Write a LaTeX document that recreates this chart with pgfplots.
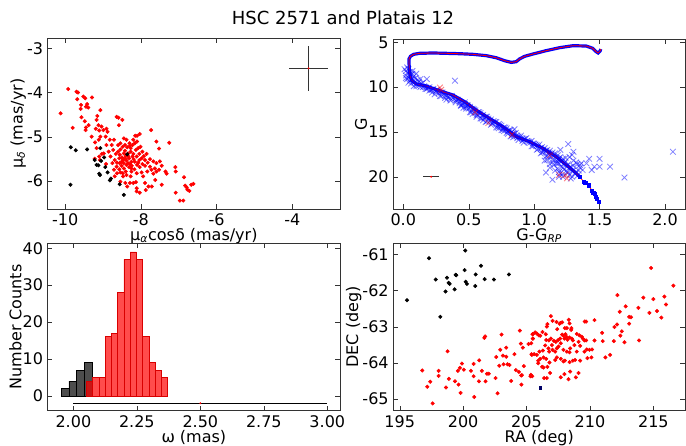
\documentclass[border=0pt]{standalone}
\usepackage{fontspec}
\setmainfont{DejaVu Sans}
\usepackage{pgfplots}
\pgfplotsset{compat=1.18}

\definecolor{bargray}{RGB}{77,77,77}

\pgfplotsset{
  panel/.style={
    scale only axis,
    anchor=south west,
    /pgf/number format/assume math mode=true,
    tick align=inside,
    major tick length=3.5pt,
    minor tick num=0,
    axis line style={black!80},
    tick style={black!80},
    tick label style={font=\fontsize{12}{14}\selectfont},
    label style={font=\fontsize{12}{14}\selectfont},
    xlabel shift=-5pt,
    ylabel shift=-6pt,
  },
  pts/.style={only marks, mark=*, mark size=1.3pt},
}

\begin{document}
\begin{tikzpicture}
\useasboundingbox (0pt,0pt) rectangle (514.5pt,334.5pt);
\node[font=\fontsize{13.5}{16}\selectfont] at (257.25pt,321pt) {HSC 2571 and Platais 12};

% ---- proper motion ----
\begin{axis}[panel, at={(35.8pt,177.75pt)}, width=219.2pt, height=128pt,
  xmin=-10.46, xmax=-2.74, ymin=-6.64, ymax=-2.77,
  xtick={-10,-8,-6,-4}, ytick={-6,-5,-4,-3},
  xlabel={μ\textsubscript{\textit{α}}cosδ (mas/yr)},
  ylabel={μ\textsubscript{\textit{δ}} (mas/yr)}]
\addplot[pts, red] coordinates {
(-9.92,-3.92) (-10.12,-4.47) (-9.70,-3.98) (-9.66,-4.00) (-9.68,-4.15) (-9.52,-4.09)
(-9.47,-4.13) (-9.58,-4.28) (-9.59,-4.37) (-9.42,-4.26) (-9.45,-4.32) (-9.29,-4.11)
(-9.39,-4.34) (-9.80,-4.80) (-9.57,-4.56) (-9.48,-4.65) (-9.45,-4.79) (-9.46,-4.85)
(-9.38,-4.74) (-9.30,-5.00) (-9.15,-4.53) (-9.17,-4.62) (-9.12,-4.74) (-9.19,-4.82)
(-9.10,-4.86) (-9.07,-4.40) (-9.04,-4.77) (-8.99,-4.85) (-9.07,-5.00) (-9.11,-5.07)
(-8.64,-4.55) (-8.59,-4.57) (-8.49,-4.62) (-8.58,-4.74) (-8.91,-4.82) (-8.88,-4.89)
(-8.93,-5.00) (-9.21,-5.13) (-9.17,-5.26) (-9.22,-5.50) (-9.10,-5.45) (-9.03,-5.39)
(-8.91,-5.19) (-8.98,-5.38) (-9.08,-5.53) (-8.92,-5.62) (-8.77,-5.19) (-8.71,-5.07)
(-8.82,-5.07) (-8.45,-5.04) (-8.38,-5.07) (-8.30,-5.15) (-8.20,-5.07) (-8.15,-4.98)
(-8.10,-4.98) (-8.03,-4.94) (-7.73,-4.85) (-7.59,-5.11) (-7.52,-5.27) (-7.25,-5.14)
(-7.32,-5.84) (-7.35,-5.79) (-7.09,-5.69) (-7.08,-5.79) (-7.45,-6.09) (-7.67,-5.84)
(-7.62,-5.98) (-7.80,-6.13) (-7.87,-6.21) (-7.71,-6.13) (-8.03,-6.27) (-8.13,-6.03)
(-7.94,-5.90) (-7.89,-6.05) (-8.20,-6.05) (-8.11,-6.17) (-8.27,-5.90) (-8.38,-5.87)
(-8.47,-5.90) (-8.48,-5.83) (-8.63,-5.83) (-8.69,-5.90) (-8.54,-6.02) (-8.41,-6.05)
(-8.29,-6.05) (-8.36,-6.13) (-6.86,-5.92) (-6.83,-6.11) (-6.79,-6.15) (-6.77,-6.20)
(-6.72,-6.23) (-6.67,-6.09) (-6.61,-6.07) (-6.97,-6.45) (-6.88,-6.45) (-7.08,-6.27)
(-8.11,-6.24)
(-8.73,-5.30) (-8.66,-5.39) (-8.60,-5.34) (-8.54,-5.29) (-8.48,-5.23) (-8.42,-5.19)
(-8.36,-5.24) (-8.29,-5.21) (-8.22,-5.19) (-8.16,-5.15) (-8.10,-5.11) (-8.56,-5.41)
(-8.50,-5.47) (-8.45,-5.38) (-8.40,-5.44) (-8.34,-5.38) (-8.27,-5.34) (-8.20,-5.39)
(-8.13,-5.30) (-8.07,-5.26) (-8.01,-5.23) (-7.96,-5.34) (-8.69,-5.53) (-8.63,-5.59)
(-8.57,-5.49) (-8.51,-5.57) (-8.45,-5.60) (-8.38,-5.54) (-8.31,-5.49) (-8.25,-5.57)
(-8.19,-5.51) (-8.11,-5.45) (-8.04,-5.53) (-7.98,-5.49) (-7.92,-5.44) (-7.85,-5.39)
(-8.64,-5.68) (-8.57,-5.74) (-8.51,-5.66) (-8.45,-5.72) (-8.38,-5.64) (-8.31,-5.69)
(-8.24,-5.66) (-8.17,-5.74) (-8.10,-5.64) (-8.03,-5.69) (-7.96,-5.62) (-7.89,-5.66)
(-7.82,-5.59) (-7.76,-5.68) (-8.71,-5.75) (-8.54,-5.81) (-8.40,-5.79) (-8.25,-5.79)
(-8.11,-5.83) (-7.98,-5.81) (-7.83,-5.79) (-7.72,-5.75) (-7.63,-5.72) (-7.59,-5.60)
(-8.75,-5.60) (-8.80,-5.45) (-8.85,-5.34) (-8.29,-5.62) (-8.47,-5.51) (-8.34,-5.60)
(-8.07,-5.59) (-8.22,-5.45) (-8.42,-5.32) (-8.27,-5.26) (-8.60,-5.19) (-8.54,-5.15)
(-8.04,-5.39) (-7.89,-5.53) (-7.76,-5.51) (-7.50,-5.56) (-7.45,-5.66) (-7.59,-5.79)
(-7.67,-5.56) (-7.52,-5.75) (-8.48,-5.54) (-8.42,-5.49) (-8.34,-5.44) (-8.56,-5.60)
(-8.16,-5.57) (-8.25,-5.72)
};
\addplot[pts, black] coordinates {
(-9.85,-5.24) (-9.72,-5.31) (-9.42,-5.29) (-9.07,-5.26) (-9.22,-5.53) (-9.17,-5.64)
(-9.12,-5.65) (-9.10,-5.84) (-9.08,-5.87) (-9.05,-5.55) (-8.97,-5.47) (-8.94,-5.69)
(-8.88,-5.81) (-8.79,-5.95) (-8.82,-5.99) (-8.56,-6.08) (-8.45,-6.32) (-9.86,-6.09)
(-8.36,-5.40)
};
\addplot[only marks, mark=*, mark size=0.5pt, red,
  error bars/.cd, x dir=both, x explicit, y dir=both, y explicit,
  error mark=none, error bar style={black!80, line width=0.6pt}]
  coordinates {(-3.57,-3.45) +- (0.51,0.51)};
\end{axis}

% ---- colour-magnitude diagram ----
\begin{axis}[panel, at={(295pt,177.75pt)}, width=218.8pt, height=127.5pt,
  xmin=-0.076, xmax=2.153, ymin=4.63, ymax=23.6, y dir=reverse,
  xtick={0,0.5,1,1.5,2}, ytick={5,10,15,20},
  xticklabel style={/pgf/number format/.cd, fixed, fixed zerofill, precision=1},
  xlabel={G-G\textsubscript{\textit{RP}}}, ylabel={G}]
\addplot[only marks, mark=x, mark size=3pt, blue, opacity=0.5, line width=0.6pt] coordinates {
(0.02,8.2) (0.03,8.4) (0.05,8.3) (0.02,8.7) (0.04,8.9) (0.06,8.6) (0.08,8.8) (0.03,9.1)
(0.05,9.3) (0.07,9.1) (0.09,9.4) (0.11,9.2) (0.13,9.1) (0.10,9.7) (0.12,9.8) (0.14,9.6)
(0.16,9.9) (0.06,9.6) (0.08,9.9) (0.18,9.1) (0.04,8.0) (0.07,8.2) (0.10,8.5)
(0.01,8.0) (0.03,7.8) (0.05,8.6) (0.07,8.5) (0.09,9.0) (0.12,9.4) (0.15,9.5) (0.08,9.3)
(0.02,9.0) (0.04,9.5) (0.06,9.2) (0.17,10.0) (0.13,10.0) (0.10,9.9)
(0.18,10.2) (0.20,10.4) (0.22,10.3) (0.25,10.5) (0.27,10.7) (0.24,10.8) (0.30,10.6)
(0.32,10.9) (0.29,11.0) (0.34,11.1) (0.36,11.3) (0.33,11.4) (0.38,11.2) (0.40,11.5)
(0.42,11.4) (0.20,10.0) (0.26,10.3)
(0.15,10.0) (0.17,10.2) (0.19,10.1) (0.21,10.3) (0.23,10.2) (0.25,10.4) (0.22,10.6)
(0.27,10.5) (0.29,10.6) (0.31,10.8) (0.28,11.0) (0.33,10.9) (0.35,11.1) (0.32,11.2)
(0.37,11.0) (0.39,11.3) (0.36,11.5)
(0.43,11.8) (0.45,12.0) (0.47,11.9) (0.48,12.2) (0.50,12.4) (0.46,12.3) (0.52,12.6)
(0.54,12.5) (0.51,12.8) (0.55,12.9) (0.57,13.1) (0.53,13.0) (0.58,12.8) (0.60,13.2)
(0.62,13.4) (0.59,13.5) (0.64,13.3) (0.56,13.3) (0.61,13.7) (0.63,13.9) (0.49,12.0)
(0.44,12.1)
(0.41,11.4) (0.43,11.6) (0.40,11.7) (0.45,11.8) (0.47,11.7) (0.44,12.0) (0.49,12.1)
(0.51,12.2) (0.48,12.4) (0.53,12.4) (0.55,12.6) (0.52,12.8) (0.57,12.8) (0.59,12.9)
(0.56,13.1) (0.61,13.1) (0.63,13.3) (0.60,13.5) (0.65,13.5) (0.67,13.6) (0.64,13.8)
(0.66,13.8) (0.68,14.0) (0.70,13.9) (0.67,14.2) (0.72,14.3) (0.74,14.2) (0.71,14.5)
(0.76,14.6) (0.78,14.5) (0.75,14.8) (0.80,14.9) (0.82,14.8) (0.79,15.1) (0.84,15.2)
(0.86,15.1) (0.83,15.4) (0.88,15.5) (0.90,15.4) (0.87,15.7) (0.92,15.8) (0.94,15.7)
(0.91,16.0) (0.96,16.1) (0.98,16.0) (0.77,14.9) (0.73,14.6) (0.85,14.7) (0.82,15.5)
(0.69,13.8) (0.71,13.9) (0.68,14.1) (0.73,14.1) (0.75,14.3) (0.72,14.5) (0.77,14.5)
(0.79,14.6) (0.76,14.8) (0.81,14.8) (0.83,15.0) (0.80,15.2) (0.85,15.2) (0.87,15.4)
(0.84,15.6) (0.89,15.6) (0.91,15.7) (0.88,15.9) (0.93,15.8) (0.95,16.0) (0.92,16.2)
(0.97,16.2)
(1.00,16.3) (1.02,16.5) (0.99,16.6) (1.04,16.4) (1.06,16.7) (1.03,16.9) (1.08,16.8)
(1.10,17.0) (1.07,17.2) (1.12,17.1) (1.14,17.3) (1.11,17.5) (1.16,17.4) (1.18,17.6)
(1.13,17.8) (1.20,17.8) (1.22,18.0) (1.17,18.2) (1.24,18.3) (1.19,18.5) (1.26,18.6)
(1.15,18.7) (1.21,18.9) (1.28,18.9) (1.23,19.2) (1.30,19.3) (1.18,19.1) (1.25,19.5)
(1.32,19.6) (1.27,19.8) (1.12,19.0) (1.14,18.4) (1.10,18.1) (1.30,18.2) (1.33,18.6)
(1.35,19.0) (1.09,17.7) (1.05,17.4) (1.20,17.0) (1.27,17.8) (1.22,19.7) (1.29,20.0)
(0.99,16.3) (1.01,16.4) (0.98,16.6) (1.03,16.6) (1.05,16.8) (1.02,17.0) (1.07,17.0)
(1.09,17.1) (1.06,17.3) (1.11,17.3) (1.13,17.5) (1.10,17.7) (1.15,17.7) (1.17,17.9)
(1.14,18.1) (1.19,18.1) (1.21,18.3) (1.18,18.5) (1.23,18.5) (1.25,18.8) (1.22,19.0)
(1.27,19.0) (1.29,19.3) (1.26,19.5) (1.31,19.6) (1.33,19.9) (1.16,19.3) (1.20,19.6)
(1.12,18.6) (1.08,18.2) (1.30,18.8) (1.34,19.3) (1.36,18.5) (1.24,17.9) (1.28,20.2)
(1.19,20.0)
(0.395,9.28) (2.06,17.21) (1.69,20.09) (1.58,18.88) (1.50,18.0) (1.50,18.88)
(1.42,18.0) (1.44,19.25) (1.46,18.88) (1.40,18.51) (1.37,19.25) (1.35,18.69)
(1.32,18.40) (1.30,17.21) (1.26,16.35) (1.29,17.58) (1.09,19.53) (1.14,20.33)
(1.19,19.48) (1.22,20.0) (1.17,18.51) (1.19,17.95)
};
\addplot[only marks, mark=x, mark size=3pt, red, opacity=0.5, line width=0.6pt] coordinates {
(0.28,10.05) (0.29,10.3) (0.65,14.0) (0.55,12.8) (1.25,20.18) (1.19,19.8) (1.24,19.8)
(0.83,15.3) (1.12,17.6)
};
\addplot[blue, line width=2.4pt] coordinates {
(1.346,19.99) (1.308,19.44) (1.245,18.69) (1.168,17.76) (1.066,16.83) (0.965,16.09)
(0.863,15.53) (0.761,14.42) (0.659,13.49) (0.557,12.56) (0.468,11.62) (0.379,10.88)
(0.277,10.40) (0.176,9.88) (0.100,9.65) (0.061,9.21) (0.049,8.46) (0.044,7.4)
(0.044,6.86) (0.054,6.57) (0.079,6.34) (0.125,6.23) (0.227,6.19) (0.329,6.23)
(0.430,6.27) (0.532,6.34) (0.634,6.49) (0.710,6.72) (0.774,7.05) (0.825,7.24)
(0.863,7.16) (0.888,6.86) (0.926,6.57) (0.990,6.31) (1.092,5.93) (1.194,5.60)
(1.295,5.38) (1.397,5.41) (1.448,5.67) (1.474,6.05) (1.489,6.19) (1.504,5.97) (1.509,5.75)
};
\addplot[only marks, mark=square*, mark size=1.2pt, blue] coordinates {
(1.346,19.99) (1.377,20.52) (1.39,20.65) (1.415,20.96) (1.443,21.56) (1.452,21.75)
(1.461,21.93) (1.47,22.2) (1.479,22.42) (1.494,22.75)
};
\addplot[red, line width=0.6pt] coordinates {
(1.494,22.75) (1.479,22.42) (1.461,21.93) (1.443,21.56) (1.415,20.96) (1.377,20.52)
(1.346,19.99) (1.308,19.44) (1.245,18.69) (1.168,17.76) (1.066,16.83) (0.965,16.09)
(0.863,15.53) (0.761,14.42) (0.659,13.49) (0.557,12.56) (0.468,11.62) (0.379,10.88)
(0.277,10.40) (0.176,9.88) (0.100,9.65) (0.061,9.21) (0.049,8.46) (0.044,7.4)
(0.044,6.86) (0.054,6.57) (0.079,6.34) (0.125,6.23) (0.227,6.19) (0.329,6.23)
(0.430,6.27) (0.532,6.34) (0.634,6.49) (0.710,6.72) (0.774,7.05) (0.825,7.24)
(0.863,7.16) (0.888,6.86) (0.926,6.57) (0.990,6.31) (1.092,5.93) (1.194,5.60)
(1.295,5.38) (1.397,5.41) (1.448,5.67) (1.474,6.05) (1.489,6.19) (1.504,5.97) (1.509,5.75)
};
\addplot[only marks, mark=*, mark size=0.5pt, red,
  error bars/.cd, x dir=both, x explicit, error mark=none,
  error bar style={black!80, line width=0.6pt}]
  coordinates {(0.213,20) +- (0.06,0)};
\end{axis}

% ---- parallax histogram ----
\begin{axis}[panel, at={(35.8pt,26.5pt)}, width=219.2pt, height=125.5pt,
  xmin=1.899, xmax=3.05, ymin=-4.02, ymax=41.34,
  xtick={2,2.25,2.5,2.75,3}, ytick={0,10,20,30,40},
  xticklabel style={/pgf/number format/.cd, fixed, fixed zerofill, precision=2},
  xlabel={ω (mas)}, ylabel={Number Counts}]
\addplot[ybar, bar width=0.0305, bar shift=0pt, fill=bargray, draw=black, line width=0.4pt]
  coordinates {(1.9668,2) (1.9973,4) (2.0278,7) (2.0583,9)};
\addplot[ybar, bar width=0.02463, bar shift=0pt, fill=red, fill opacity=0.7, draw=red!85!black, line width=0.5pt]
  coordinates {(2.0636,4) (2.0882,5) (2.1129,5) (2.1375,16) (2.1621,17) (2.1868,28)
  (2.2114,37) (2.2360,39) (2.2607,37) (2.2853,16) (2.3099,9) (2.3346,7) (2.3592,5)};
\addplot[only marks, mark=*, mark size=0.5pt, red,
  error bars/.cd, x dir=both, x explicit, error mark=none,
  error bar style={black, line width=0.7pt}]
  coordinates {(2.5,-2) +- (0.5,0)};
\end{axis}

% ---- sky positions ----
\begin{axis}[panel, at={(295pt,26.5pt)}, width=218.8pt, height=125.5pt,
  xmin=194.5, xmax=217.5, ymin=-65.32, ymax=-60.7,
  xtick={195,200,205,210,215}, ytick={-65,-64,-63,-62,-61},
  xlabel={RA (deg)}, ylabel={DEC (deg)}]
\addplot[pts, black] coordinates {
(197.31,-61.11) (200.17,-60.90) (195.58,-62.27) (197.84,-61.70) (198.73,-61.65)
(199.41,-61.57) (199.46,-61.58) (200.12,-61.44) (201.41,-61.32) (200.99,-61.56)
(198.86,-61.79) (198.94,-61.82) (198.62,-62.03) (199.33,-61.97) (200.20,-61.76)
(200.30,-61.82) (200.96,-61.88) (201.70,-61.69) (202.43,-61.70) (203.61,-61.56)
(198.20,-62.73)
};
\addplot[pts, red] coordinates {
(196.78,-64.21) (197.41,-64.52) (197.18,-64.66) (197.60,-65.12) (198.07,-64.22)
(198.07,-64.36) (198.88,-64.44) (198.65,-64.68) (198.78,-63.68) (199.36,-64.51)
(199.64,-64.60) (199.59,-64.22) (199.75,-64.14) (199.91,-64.02) (199.80,-64.83)
(200.06,-64.19) (200.62,-64.22) (200.83,-64.37) (200.83,-64.03) (201.27,-63.93)
(200.88,-64.94) (201.25,-64.51) (201.48,-64.22) (201.77,-64.51) (201.88,-64.30)
(202.03,-64.30) (201.67,-63.31) (201.74,-63.27) (202.56,-64.42) (202.61,-63.84)
(202.72,-64.84) (202.85,-64.08) (202.93,-63.64) (203.03,-63.22) (203.14,-63.80)
(203.40,-63.58) (203.40,-63.83) (203.19,-64.04) (203.50,-64.04) (203.66,-64.06)
(203.79,-64.50) (204.05,-63.76) (204.16,-64.20) (204.40,-64.25) (204.47,-63.11)
(204.55,-63.47) (204.63,-64.34) (204.71,-63.58) (204.60,-64.60) (204.79,-64.09)
(205.16,-63.48) (205.31,-64.37) (205.39,-63.76) (205.47,-63.21) (205.50,-63.33)
(204.58,-64.35)
(214.82,-61.38) (216.58,-61.87) (212.17,-62.13) (214.21,-62.20) (215.00,-62.24)
(215.87,-62.17) (216.00,-62.39) (212.82,-62.44) (213.82,-62.48) (214.69,-62.62)
(215.29,-62.57) (212.35,-62.59) (215.63,-62.75) (213.09,-62.73) (213.24,-62.74)
(213.09,-62.92) (212.14,-62.94) (211.93,-63.01) (212.51,-63.13) (212.40,-63.25)
(212.72,-63.43) (211.88,-63.40) (213.87,-63.38) (210.96,-63.17) (211.01,-63.40)
(211.59,-63.78) (211.22,-63.85) (210.36,-62.82) (209.70,-62.86) (209.59,-62.86)
(210.36,-63.38) (210.17,-63.63)
(206.92,-62.71) (206.65,-62.93) (207.05,-62.84) (207.36,-62.87) (207.60,-62.92)
(207.68,-62.90) (207.81,-62.88) (208.33,-62.81) (208.39,-62.91) (208.02,-63.04)
(208.18,-63.04) (208.54,-63.04) (208.52,-63.09) (207.42,-63.07) (206.60,-63.00)
(206.26,-63.15) (205.68,-63.16) (205.81,-63.19) (205.97,-63.24) (205.50,-63.21)
(205.50,-63.33) (206.08,-63.25) (206.52,-63.21) (206.55,-63.37) (206.76,-63.38)
(206.92,-63.33) (207.15,-63.39) (207.31,-63.42) (207.49,-63.37) (207.65,-63.33)
(207.81,-63.22) (207.91,-63.25) (207.99,-63.33) (208.07,-63.21) (208.15,-63.28)
(208.23,-63.36) (208.39,-63.30) (208.57,-63.33) (208.65,-63.38) (208.96,-63.20)
(209.17,-63.24) (209.36,-63.28) (209.44,-63.33) (209.57,-63.38) (209.70,-63.38)
(207.70,-63.46) (207.52,-63.55) (207.00,-63.51) (206.73,-63.60) (206.47,-63.52)
(206.29,-63.66) (206.02,-63.69) (205.81,-63.78) (205.60,-63.76) (205.37,-63.46)
(205.42,-63.78) (206.79,-63.69) (207.05,-63.64) (207.26,-63.69) (207.39,-63.60)
(207.91,-63.64) (208.18,-63.69) (208.39,-63.71) (208.44,-63.60) (208.78,-63.51)
(209.10,-63.42) (209.23,-63.53) (209.57,-63.69) (209.75,-63.63) (209.96,-63.64)
(210.12,-63.85) (208.96,-63.69) (208.83,-63.92) (208.65,-63.94) (208.39,-63.98)
(208.02,-63.94) (207.91,-63.96) (207.70,-63.89) (207.39,-63.85) (207.26,-63.92)
(206.81,-63.99) (206.55,-63.89) (206.34,-63.85) (206.08,-63.89) (205.92,-63.94)
(206.23,-64.11) (206.34,-64.13) (206.65,-64.11) (206.86,-64.28) (206.39,-64.42)
(206.60,-64.42) (207.70,-64.40) (207.99,-64.31) (208.31,-64.45) (208.44,-64.24)
(208.89,-64.40) (209.10,-64.28) (209.23,-63.94) (209.80,-63.87) (205.34,-64.33)
(205.45,-64.37) (205.92,-64.01)
};
\addplot[only marks, mark=square*, mark size=0.9pt, blue!40!black] coordinates {(206.08,-64.69)};
\end{axis}
\end{tikzpicture}
\end{document}
